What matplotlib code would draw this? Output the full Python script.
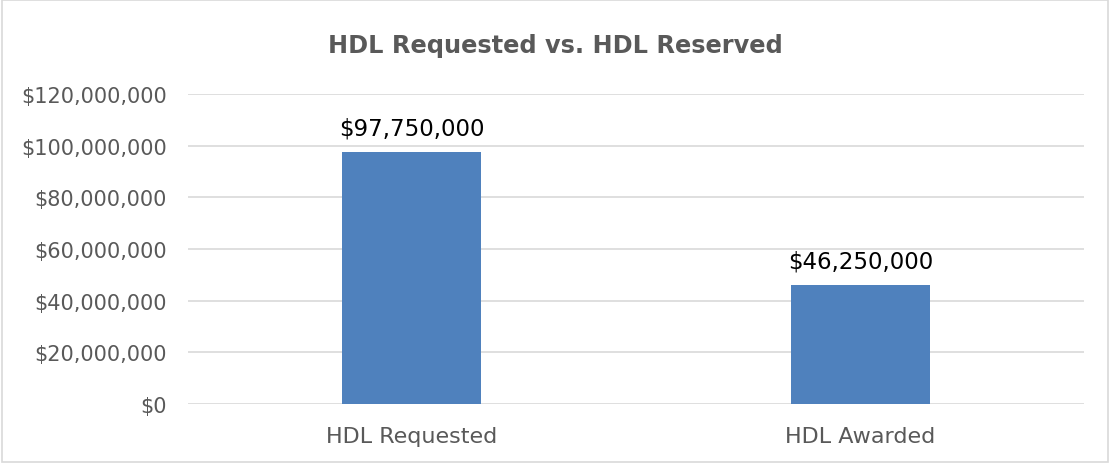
import matplotlib
matplotlib.use("Agg")
import matplotlib.pyplot as plt
import matplotlib.ticker as ticker
from matplotlib.patches import Rectangle

categories = ["HDL Requested", "HDL Awarded"]
amounts = [97750000, 46250000]
title = "HDL Requested vs. HDL Reserved"

plt.rcParams['font.family'] = ['DejaVu Sans']

fig = plt.figure(figsize=(11.1, 4.64), dpi=100)
ax = fig.add_axes([0.169, 0.127, 0.808, 0.668])

x = range(len(categories))
ax.bar(x, amounts, width=0.31, color='#4f81bd', zorder=3)

for xi, v in zip(x, amounts):
    ax.text(xi, v + 4500000, "${:,.0f}".format(v), ha='center', va='bottom',
            fontsize=16.5, color='black')

ax.set_xlim(-0.5, 1.5)
ax.set_ylim(0, 120000000)
ax.set_yticks(range(0, 120000001, 20000000))
ax.yaxis.set_major_formatter(ticker.StrMethodFormatter('${x:,.0f}'))
ax.set_xticks(list(x))
ax.set_xticklabels(categories)
ax.tick_params(axis='both', length=0, labelcolor='#595959')
ax.tick_params(axis='x', pad=16, labelsize=16)
ax.tick_params(axis='y', pad=15, labelsize=15)
ax.grid(axis='y', color='#d9d9d9', linewidth=1.2, zorder=0)
for s in ax.spines.values():
    s.set_visible(False)

fig.text(0.5, 0.9, title, ha='center', va='center', fontsize=17.3,
         fontweight='bold', color='#595959')

fig.patches.append(Rectangle((0.002, 0.003), 0.996, 0.994, transform=fig.transFigure,
                             fill=False, edgecolor='#d9d9d9', linewidth=1.2))

fig.savefig("out.png", dpi=100)
